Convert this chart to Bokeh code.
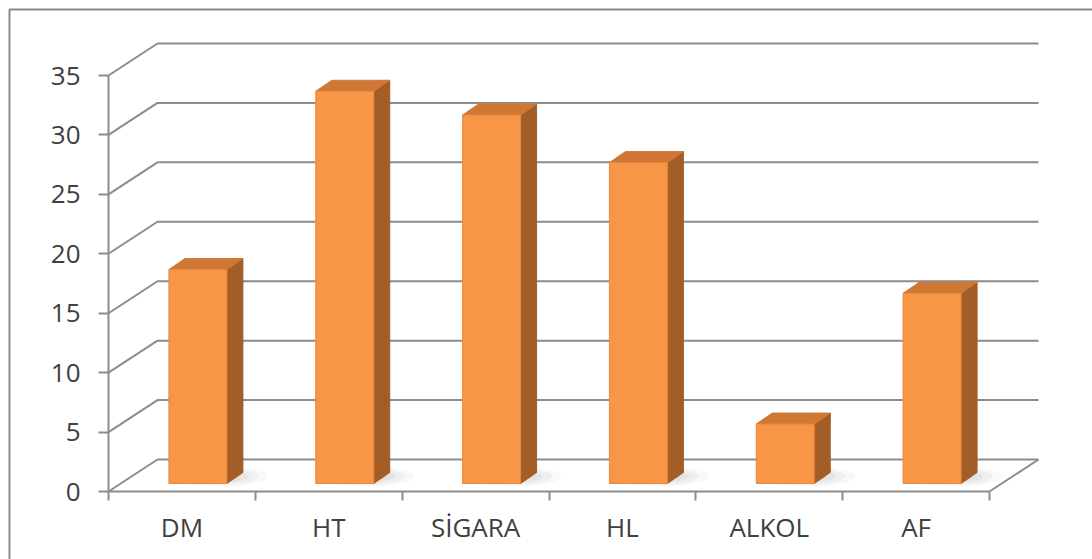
from bokeh.plotting import figure
from bokeh.models import LinearAxis, FixedTicker, Range1d
from bokeh.embed import file_html
from bokeh.resources import INLINE

# ---- data ----
categories = ["DM", "HT", "SİGARA", "HL", "ALKOL", "AF"]
values = [18, 33, 31, 27, 5, 16]
y_ticks = [0, 5, 10, 15, 20, 25, 30, 35]

# ---- geometry (pixel calibration) ----
W, H = 1092, 559
X0PX, Y0PX = 108, 491          # pixel of data origin
UX = (989 - 108) / 6           # px per category
UY = (491 - 75) / 35           # px per value unit


def dx(px):
    return px / UX


def dy(px):
    return px / UY


def X(px):
    return (px - X0PX) / UX


def Y(py):
    return (Y0PX - py) / UY


n = len(categories)
ymax = y_ticks[-1]
DXW, DYW = dx(49), dy(32)      # wall depth
BX, BY = dx(16), dy(8)         # bar front face offset into depth
SX, SY = dx(16), dy(11)        # bar own depth
HALF = dx(29)                  # half bar width

GRID = "#8c8c8c"
FRONT = "#F79646"
SIDE = "#A35D27"
TOP = "#CF7835"
TXT = "#404040"
FONT = "Open Sans"
FSIZE = "26px"

p = figure(width=W, height=H,
           x_range=Range1d(X(0), X(W)), y_range=Range1d(Y(H), Y(0)),
           output_backend="svg", toolbar_location=None,
           x_axis_type=None, y_axis_type=None, min_border=0)
p.outline_line_color = None
p.background_fill_color = "white"
p.border_fill_color = "white"

# outer chart border (top & left visible)
p.line([X(9), X(9), X(W + 20)], [Y(H + 20), Y(9), Y(9)],
       line_color="#8a8a8a", line_width=2)

# wall gridlines
gxs, gys = [], []
for t in y_ticks:
    gxs.append([0, DXW, n + DXW])
    gys.append([t, t + DYW, t + DYW])
gxs.append([n, n + DXW])
gys.append([0, DYW])
p.multi_line(gxs, gys, line_color=GRID, line_width=2)

# bars
fx, fy, sxs, sys_, txs, tys = [], [], [], [], [], []
for i, v in enumerate(values):
    c = i + 0.5 + BX
    xl, xr = c - HALF, c + HALF
    # soft shadow, towards the back-right
    for k, a in enumerate([0.05, 0.07, 0.09, 0.11]):
        s = 1 - 0.2 * k
        p.ellipse(x=c + dx(22), y=BY + dy(7), width=dx(96) * s, height=dy(20) * s,
                  fill_color="#7f7f7f", fill_alpha=a, line_color=None)
    fx.append([xl, xr, xr, xl])
    fy.append([BY, BY, v + BY, v + BY])
    sxs.append([xr, xr + SX, xr + SX, xr])
    sys_.append([BY, BY + SY, v + BY + SY, v + BY])
    txs.append([xl, xr, xr + SX, xl + SX])
    tys.append([v + BY, v + BY, v + BY + SY, v + BY + SY])

p.patches(sxs, sys_, fill_color=SIDE, line_color=SIDE, line_width=1)
p.patches(txs, tys, fill_color=TOP, line_color=TOP, line_width=1)
p.patches(fx, fy, fill_color=FRONT, line_color="#E8873B", line_width=1)

# axes
yaxis = LinearAxis(fixed_location=0, bounds=(0, ymax), ticker=FixedTicker(ticks=y_ticks, minor_ticks=[]))
yaxis.axis_line_color = GRID
yaxis.axis_line_width = 2
yaxis.major_tick_line_color = GRID
yaxis.major_tick_line_width = 2
yaxis.major_tick_in = 0
yaxis.major_tick_out = 10
yaxis.minor_tick_line_color = None
yaxis.major_label_standoff = 18
yaxis.major_label_text_font = FONT
yaxis.major_label_text_font_size = FSIZE
yaxis.major_label_text_color = TXT
p.add_layout(yaxis, "left")

centers = [i + 0.5 for i in range(n)]
xaxis = LinearAxis(fixed_location=0, bounds=(0, n),
                   ticker=FixedTicker(ticks=centers, minor_ticks=list(range(n + 1))))
xaxis.major_label_overrides = {c: lab for c, lab in zip(centers, categories)}
xaxis.axis_line_color = GRID
xaxis.axis_line_width = 2
xaxis.major_tick_line_color = None
xaxis.major_tick_in = 0
xaxis.major_tick_out = 0
xaxis.minor_tick_line_color = GRID
xaxis.minor_tick_line_width = 2
xaxis.minor_tick_in = 0
xaxis.minor_tick_out = 9
xaxis.major_label_standoff = 8
xaxis.major_label_text_font = FONT
xaxis.major_label_text_font_size = FSIZE
xaxis.major_label_text_color = TXT
p.add_layout(xaxis, "below")

open("out.html", "w").write(file_html(p, INLINE))
